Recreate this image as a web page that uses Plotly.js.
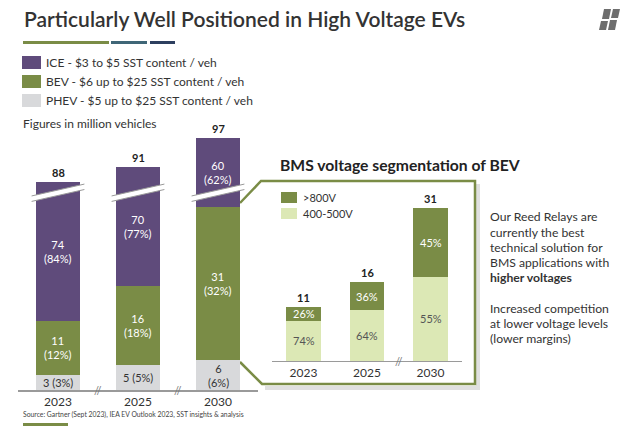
<!DOCTYPE html>
<html><head><meta charset="utf-8">
<script src="https://cdn.plot.ly/plotly-3.0.1.min.js"></script>
<style>html,body{margin:0;padding:0;background:#fff}#chart{width:640px;height:426px}</style>
</head><body><div id="chart"></div>
<script>
// ---------- data ----------
const years = ['2023', '2025', '2030'];
const seriesNames = ['ICE - $3 to $5 SST content / veh', 'BEV - $6 up to $25 SST content / veh', 'PHEV - $5 up to $25 SST content / veh'];
const iceValues = [74, 70, 60];
const icePct = [84, 77, 62];
const bevValues = [11, 16, 31];
const bevPct = [12, 18, 32];
const phevValues = [3, 5, 6];
const phevPct = [3, 5, 6];
const totals = [88, 91, 97];
const bmsNames = ['>800V', '400-500V'];
const bmsTotals = [11, 16, 31];
const highPct = [26, 36, 45];
const lowPct = [74, 64, 55];
const axisBreak = 46;     // units cut out of the ICE segments by the broken axis
const breakLevel = 39.3;  // where the break is drawn on the broken axis

// ---------- helpers ----------
const W = 640, H = 426, PXU = 4.95;
const X = p => p / W, Y = p => 1 - p / H;
const FONT = 'Lato, "Open Sans", sans-serif';
const C = {purple: '#5f4b7b', green: '#7a8c46', grey: '#d8d9db', light: '#dce8b5', text: '#333333'};

const iceShown = iceValues.map(v => v - axisBreak);
const lowValues = bmsTotals.map((t, i) => t * lowPct[i] / 100);
const highValues = bmsTotals.map((t, i) => t * highPct[i] / 100);

const bar = (y, color, xa, ya) => ({type: 'bar', x: years, y: y, xaxis: xa, yaxis: ya,
  marker: {color: color, line: {width: 0}}, hoverinfo: 'skip', showlegend: false});

const data = [
  bar(phevValues, C.grey, 'x', 'y'),
  bar(bevValues, C.green, 'x', 'y'),
  bar(iceShown, C.purple, 'x', 'y'),
  bar(lowValues, C.light, 'x2', 'y2'),
  bar(highValues, C.green, 'x2', 'y2')
];

const ann = [];
const shapes = [];
const A = (o) => ann.push(Object.assign({showarrow: false, xanchor: 'center', yanchor: 'middle',
  font: {family: FONT, size: 11, color: C.text}}, o));
const pathPx = (pts, close) => pts.map((p, i) => (i ? 'L' : 'M') + X(p[0]).toFixed(5) + ',' + Y(p[1]).toFixed(5)).join(' ') + (close ? ' Z' : '');

// left chart labels
years.forEach((yr, i) => {
  const p = phevValues[i], b = bevValues[i], s = iceShown[i];
  A({x: i, y: p / 2, xref: 'x', yref: 'y',
     text: p >= 6 ? p + '<br>(' + phevPct[i] + '%)' : p + ' (' + phevPct[i] + '%)'});
  A({x: i, y: p + b / 2, xref: 'x', yref: 'y', text: b + '<br>(' + bevPct[i] + '%)', font: {family: FONT, size: 11, color: '#ffffff'}});
  A({x: i, y: p + b + s / 2, xref: 'x', yref: 'y', text: iceValues[i] + '<br>(' + icePct[i] + '%)', font: {family: FONT, size: 11, color: '#ffffff'}});
  A({x: i, y: p + b + s, xref: 'x', yref: 'y', yanchor: 'bottom', yshift: 1, text: String(totals[i]),
     font: {family: FONT, size: 11, color: '#222', weight: 'bold'}});
  // axis break on the bar
  const x0 = i - 0.33, x1 = i + 0.33;
  shapes.push({type: 'path', xref: 'x', yref: 'y', layer: 'above', line: {width: 0}, fillcolor: '#ffffff',
    path: `M ${x0},${breakLevel - 1.2} L ${x1},${breakLevel + 1.2} L ${x1},${breakLevel + 2.3} L ${x0},${breakLevel - 0.1} Z`});
  [0, 1.1].forEach(off => shapes.push({type: 'line', xref: 'x', yref: 'y', layer: 'above',
    x0: x0, x1: x1, y0: breakLevel - 1.2 + off, y1: breakLevel + 1.2 + off, line: {color: '#9a9a9a', width: 1}}));
});
[0.5, 1.5].forEach(x => A({x: x, y: 0, xref: 'x', yref: 'y', text: '//', font: {family: FONT, size: 11, color: '#777'}}));

// right chart labels
years.forEach((yr, i) => {
  const lo = lowValues[i], hi = highValues[i];
  A({x: i, y: lo / 2, xref: 'x2', yref: 'y2', text: lowPct[i] + '%', font: {family: FONT, size: 11, color: '#555'}});
  A({x: i, y: lo + hi / 2, xref: 'x2', yref: 'y2', text: highPct[i] + '%', font: {family: FONT, size: 11, color: '#ffffff'}});
  A({x: i, y: bmsTotals[i], xref: 'x2', yref: 'y2', yanchor: 'bottom', yshift: 1, text: String(bmsTotals[i]),
     font: {family: FONT, size: 11, color: '#222', weight: 'bold'}});
});
A({x: 1.5, y: 0, xref: 'x2', yref: 'y2', text: '//', font: {family: FONT, size: 11, color: '#777'}});

// callout box (shadow, fill, outline)
shapes.unshift(
  {type: 'path', xref: 'paper', yref: 'paper', layer: 'below', line: {color: 'rgba(0,0,0,0.12)', width: 4},
   path: pathPx([[266, 186], [478, 186], [478, 388], [265, 388]], false)},
  {type: 'path', xref: 'paper', yref: 'paper', layer: 'below', line: {width: 0}, fillcolor: '#ffffff',
   path: pathPx([[240, 203], [261, 181], [475, 181], [475, 384], [262, 384], [240, 362]], true)},
  {type: 'path', xref: 'paper', yref: 'paper', layer: 'below', line: {color: C.green, width: 2.5},
   path: pathPx([[240, 203], [261, 181], [475, 181], [475, 384], [262, 384], [240, 362]], false)}
);

// title, underline, logo
A({x: X(22), y: Y(19), xref: 'paper', yref: 'paper', xanchor: 'left',
   text: 'Particularly Well Positioned in High Voltage EVs', font: {family: FONT, size: 21, color: '#333', weight: 600}});
[[23, 109, '#7a8c46'], [111, 147, '#3f6677'], [150, 175, '#2d3f5f']].forEach(s => shapes.push({type: 'rect', xref: 'paper', yref: 'paper',
  x0: X(s[0]), x1: X(s[1]), y0: Y(44), y1: Y(41), fillcolor: s[2], line: {width: 0}}));
[[[604, 9], [611, 9], [609, 19], [602, 19]], [[613, 9], [620, 9], [618, 18], [611, 18]],
 [[601, 21], [608, 21], [606, 30], [599, 30]], [[610, 20], [617, 20], [615, 30], [608, 30]]].forEach(pts =>
  shapes.push({type: 'path', xref: 'paper', yref: 'paper', line: {width: 0}, fillcolor: '#6e6e6e', path: pathPx(pts, true)}));

// left legend
const legColors = [C.purple, C.green, C.grey];
seriesNames.forEach((n, i) => {
  const yc = 62.5 + 19 * i;
  shapes.push({type: 'rect', xref: 'paper', yref: 'paper', x0: X(22), x1: X(41), y0: Y(yc + 6.5), y1: Y(yc - 6.5), fillcolor: legColors[i], line: {width: 0}});
  A({x: X(44), y: Y(yc), xref: 'paper', yref: 'paper', xanchor: 'left', text: n, font: {family: FONT, size: 12, color: C.text}});
});
A({x: X(21), y: Y(124), xref: 'paper', yref: 'paper', xanchor: 'left', text: 'Figures in million vehicles', font: {family: FONT, size: 12, color: C.text}});

// right legend + subtitle
[C.green, C.light].forEach((c, i) => {
  const yc = 197.5 + 16 * i;
  shapes.push({type: 'rect', xref: 'paper', yref: 'paper', x0: X(281), x1: X(297), y0: Y(yc + 5.5), y1: Y(yc - 5.5), fillcolor: c, line: {width: 0}});
  A({x: X(301), y: Y(yc), xref: 'paper', yref: 'paper', xanchor: 'left', text: bmsNames[i], font: {family: FONT, size: 11, color: C.text}});
});
A({x: X(278), y: Y(165), xref: 'paper', yref: 'paper', xanchor: 'left', text: 'BMS voltage segmentation of BEV',
   font: {family: FONT, size: 15.7, color: '#222', weight: 'bold'}});

// side text
const sideLines = ['Our Reed Relays are', 'currently the best', 'technical solution for', 'BMS applications with',
  '<b>higher voltages</b>', 'Increased competition', 'at lower voltage levels', '(lower margins)'];
const sideY = [216, 232, 247, 262, 277, 308, 323, 338];
sideLines.forEach((t, i) => A({x: X(488), y: Y(sideY[i]), xref: 'paper', yref: 'paper', xanchor: 'left', text: t,
  font: {family: FONT, size: 12.2, color: C.text}}));

// source
A({x: X(21), y: Y(414), xref: 'paper', yref: 'paper', xanchor: 'left',
   text: 'Source: Gartner (Sept 2023), IEA EV Outlook 2023, SST insights & analysis', font: {family: FONT, size: 6.8, color: '#444'}});
shapes.push({type: 'rect', xref: 'paper', yref: 'paper', x0: X(23), x1: X(68), y0: Y(426), y1: Y(423), fillcolor: C.green, line: {width: 0}});

const xBase = {type: 'category', range: [-0.5, 2.5], showline: true, linecolor: '#9a9a9a', linewidth: 1.5,
  ticks: '', showgrid: false, zeroline: false, fixedrange: true, tickfont: {family: FONT, size: 12, color: C.text}};
const layout = {
  width: W, height: H, margin: {l: 0, r: 0, t: 0, b: 0},
  paper_bgcolor: '#ffffff', plot_bgcolor: 'rgba(0,0,0,0)',
  barmode: 'stack', bargap: 0.45, showlegend: false,
  font: {family: FONT, color: C.text},
  xaxis: Object.assign({}, xBase, {domain: [X(18), X(258)], anchor: 'y'}),
  yaxis: {domain: [Y(390), Y(130)], range: [0, (390 - 130) / PXU], visible: false, fixedrange: true},
  xaxis2: Object.assign({}, xBase, {domain: [X(271.75), X(462.25)], anchor: 'y2', linewidth: 1.2}),
  yaxis2: {domain: [Y(361), Y(190)], range: [0, (361 - 190) / PXU], visible: false, fixedrange: true},
  shapes: shapes, annotations: ann
};
Plotly.newPlot('chart', data, layout, {staticPlot: true});
</script></body></html>
